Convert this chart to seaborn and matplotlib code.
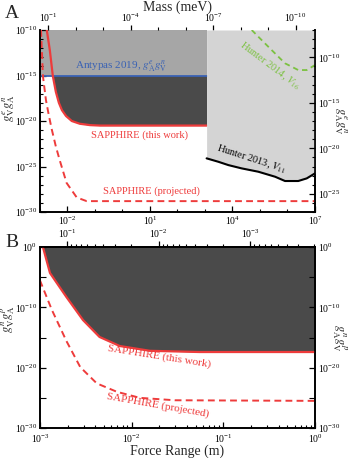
import numpy as np
import matplotlib
matplotlib.use('Agg')
import matplotlib.pyplot as plt
import matplotlib.ticker as mticker
import seaborn as sns

# %%
# values (log10 of force range in m, log10 of coupling)
# panel A, left axis units
sapphire_A_lam = [-2.75, -2.64, -2.53, -2.42, -2.31, -2.20, -2.05, -1.84, -1.55, -1.18, -0.82, 1.0, 3.06]
sapphire_A_g = [-10, -12.2, -15.05, -16.8, -18.0, -18.8, -19.45, -20.0, -20.3, -20.45, -20.5, -20.5, -20.5]
projected_A_lam = [-2.96, -2.89, -2.78, -2.68, -2.57, -2.42, -2.28, -2.03, -1.66, -1.30, 7.0]
projected_A_g = [-10, -15.05, -17.7, -19.3, -20.9, -22.8, -24.3, -26.8, -28.4, -28.8, -28.8]
antypas_lam = [-3.0, 3.06]
antypas_limit = -15
antypas_top = -10

# panel A, right axis units
hunter13_lam = [3.06, 3.48, 3.85, 4.33, 4.94, 5.55, 5.91, 6.39, 6.70, 7.0]
hunter13_g = [-21.10, -21.47, -21.84, -22.20, -22.57, -23.12, -23.59, -23.59, -23.30, -22.75]
hunter14_lam = [4.70, 4.94, 5.30, 5.91, 6.39, 6.70, 7.0]
hunter14_g = [-7.0, -7.74, -8.83, -10.66, -11.40, -11.40, -10.85]

# panel B
sapphire_B_lam = [-2.967, -2.89, -2.71, -2.53, -2.35, -2.13, -1.80, -1.26, 0]
sapphire_B_g = [0, -4.3, -8.3, -12.1, -14.9, -16.4, -17.2, -17.4, -17.4]
projected_B_lam = [-3.0, -2.87, -2.71, -2.56, -2.38, -2.16, -1.91, -1.53, 0]
projected_B_g = [-5.5, -10.4, -15.6, -19.9, -22.6, -24.0, -25.0, -25.4, -25.5]

hbar_c = 1.97e-4  # meV m

RED = '#ee3b3b'
DARK = '#4a4a4a'
MID = '#a6a6a6'
LIGHT = '#d4d4d4'
BLUE = '#3a62b4'
GREEN = '#7cc142'


def to_mass(x):
    x = np.array(x, float)
    x[x <= 0] = np.inf
    return hbar_c / x


def p10(v):
    return 10.0 ** np.asarray(v, float)


sns.set_theme(style='ticks')
plt.rcParams['font.family'] = ['Liberation Serif', 'DejaVu Serif']
plt.rcParams['mathtext.fontset'] = 'stix'
plt.rcParams['font.size'] = 7
for k in ['xtick', 'ytick']:
    plt.rcParams[k + '.labelsize'] = 7
    plt.rcParams[k + '.major.size'] = 4
    plt.rcParams[k + '.minor.size'] = 2.5
    plt.rcParams[k + '.major.width'] = 0.9
    plt.rcParams[k + '.minor.width'] = 0.8
    plt.rcParams[k + '.color'] = 'black'
plt.rcParams['axes.linewidth'] = 1.2
plt.rcParams['axes.edgecolor'] = 'black'

fig = plt.figure(figsize=(3.5, 4.58), dpi=100)
axA = fig.add_axes([0.114, 0.537, 0.786, 0.3975])
axB = fig.add_axes([0.114, 0.0655, 0.786, 0.395])

# %%
# Panel A
ax = axA
ax.set(xscale='log', yscale='log', xlim=(1e-3, 1e7), ylim=(1e-30, 1e-10))
ax.fill_between(p10(antypas_lam), 10.0 ** antypas_limit, 10.0 ** antypas_top,
                color=MID, lw=0, zorder=0)
sl = p10(sapphire_A_lam)
sg = p10(sapphire_A_g)
ax.fill_between(sl, sg, 10.0 ** antypas_limit, where=sg <= 10.0 ** antypas_limit * 1.2,
                interpolate=True, color=DARK, lw=0, zorder=0)
sns.lineplot(x=p10(antypas_lam), y=[10.0 ** antypas_limit] * 2, ax=ax,
             color=BLUE, lw=1.3, zorder=3)
sns.lineplot(x=sl, y=sg, ax=ax, color=RED, lw=1.6, zorder=3)
sns.lineplot(x=p10(projected_A_lam), y=p10(projected_A_g), ax=ax, color=RED,
             lw=1.4, linestyle=(0, (3.5, 2.2)), zorder=3)
ax.text(0.9, 1.6e-15, 'Antypas 2019, $g^e_{\\rm A}g^n_{\\rm V}$', color=BLUE,
        fontsize=8, ha='center', va='bottom')
ax.text(4.2, 3e-22, 'SAPPHIRE (this work)', color=RED, fontsize=7.5, ha='center', va='center')
ax.text(11, 2e-28, 'SAPPHIRE (projected)', color=RED, fontsize=7.5, ha='center', va='center')
ax.set_xticks([1e-2, 1e1, 1e4, 1e7])
ax.xaxis.set_minor_locator(mticker.FixedLocator(p10(range(-3, 8))))
ax.xaxis.set_minor_formatter(mticker.NullFormatter())
ax.set_yticks(p10([-30, -25, -20, -15, -10]))
ax.yaxis.set_minor_locator(mticker.FixedLocator(p10(range(-30, -9))))
ax.yaxis.set_minor_formatter(mticker.NullFormatter())
ax.tick_params(which='both', direction='in', top=False, right=False, pad=2)
ax.spines['top'].set_visible(False)
ax.set_ylabel('$g^e_{\\rm V}g^n_{\\rm A}$', fontsize=9, labelpad=1)
ax.yaxis.set_label_coords(-0.082, 0.57)
ax.set_xlabel('')

tw = ax.twinx()
tw.set(yscale='log', ylim=(1e-27, 1e-7))
hl = p10(hunter13_lam)
hg = p10(hunter13_g)
tw.fill_between(hl, hg, 1e-7, color=LIGHT, lw=0, zorder=0)
sns.lineplot(x=hl, y=hg, ax=tw, color='black', lw=1.5)
sns.lineplot(x=p10(hunter14_lam), y=p10(hunter14_g), ax=tw, color=GREEN, lw=1.3,
             linestyle=(0, (3, 2.2)))
tw.text(5e4, 6e-22, 'Hunter 2013, $V_{11}$', color='black', fontsize=7.5,
        rotation=-18, ha='center', va='center', rotation_mode='anchor')
tw.text(2.3e5, 1.1e-11, 'Hunter 2014, $V_{16}$', color=GREEN, fontsize=7.5,
        rotation=-37, ha='center', va='center', rotation_mode='anchor')
tw.set_yticks(p10([-25, -20, -15, -10]))
tw.yaxis.set_minor_locator(mticker.FixedLocator(p10(range(-27, -6))))
tw.yaxis.set_minor_formatter(mticker.NullFormatter())
tw.tick_params(which='both', direction='in', pad=2)
tw.spines['top'].set_visible(False)
tw.set_ylabel('$g^e_{\\rm A}g^n_{\\rm V}$', fontsize=9, rotation=-90, labelpad=6)
tw.set_xlim(1e-3, 1e7)

secA = ax.secondary_xaxis('top', functions=(to_mass, to_mass))
secA.set_xticks([1e-1, 1e-4, 1e-7, 1e-10])
secA.xaxis.set_minor_locator(mticker.FixedLocator(p10(range(-10, 1))))
secA.xaxis.set_minor_formatter(mticker.NullFormatter())
secA.tick_params(which='both', direction='out', pad=0.5)
secA.tick_params(which='major', length=3.5)
secA.spines['top'].set_visible(False)
secA.set_xlabel('Mass (meV)', fontsize=10, labelpad=1)

# %%
# Panel B
ax = axB
ax.set(xscale='log', yscale='log', xlim=(1e-3, 1e0), ylim=(1e-30, 1e0))
bl = p10(sapphire_B_lam)
bg = p10(sapphire_B_g)
ax.fill_between(bl, bg, 1e0, color=DARK, lw=0, zorder=0)
sns.lineplot(x=bl, y=bg, ax=ax, color=RED, lw=1.6, zorder=3)
sns.lineplot(x=p10(projected_B_lam), y=p10(projected_B_g), ax=ax, color=RED,
             lw=1.4, linestyle=(0, (3.5, 2.2)), zorder=3)
ax.text(0.02, 8e-19, 'SAPPHIRE (this work)', color=RED, fontsize=8,
        rotation=-9, ha='center', va='center', rotation_mode='anchor')
ax.text(0.0195, 6e-27, 'SAPPHIRE (projected)', color=RED, fontsize=8,
        rotation=-10, ha='center', va='center', rotation_mode='anchor')
ax.set_xticks([1e-3, 1e-2, 1e-1, 1e0])
ax.xaxis.set_minor_locator(mticker.LogLocator(base=10, subs=np.arange(2, 10)))
ax.xaxis.set_minor_formatter(mticker.NullFormatter())
ax.set_yticks(p10([-30, -20, -10, 0]))
ax.yaxis.set_minor_locator(mticker.FixedLocator(p10([-25, -15, -5])))
ax.yaxis.set_minor_formatter(mticker.NullFormatter())
ax.tick_params(which='both', direction='in', top=False, right=False, pad=2)
ax.tick_params(axis='x', pad=3)
ax.tick_params(axis='y', which='minor', length=4)
ax.set_xlabel('Force Range (m)', fontsize=10, labelpad=0)
ax.set_ylabel('$g^n_{\\rm V}g^p_{\\rm A}$', fontsize=9, labelpad=1)
ax.yaxis.set_label_coords(-0.082, 0.6)

twB = ax.twinx()
twB.set(yscale='log', ylim=(1e-30, 1e0))
twB.set_yticks(p10([-30, -20, -10, 0]))
twB.yaxis.set_minor_locator(mticker.FixedLocator(p10([-25, -15, -5])))
twB.yaxis.set_minor_formatter(mticker.NullFormatter())
twB.tick_params(which='both', direction='in', pad=2)
twB.tick_params(axis='y', which='minor', length=4)
twB.set_ylabel('$g^n_{\\rm A}g^p_{\\rm V}$', fontsize=9, rotation=-90, labelpad=6)

secB = ax.secondary_xaxis('top', functions=(to_mass, to_mass))
secB.set_xticks([1e-1, 1e-2, 1e-3])
secB.xaxis.set_minor_locator(mticker.LogLocator(base=10, subs=np.arange(2, 10)))
secB.xaxis.set_minor_formatter(mticker.NullFormatter())
secB.tick_params(which='both', direction='out', pad=1)

fig.text(0.015, 0.99, 'A', fontsize=14, ha='left', va='top')
fig.text(0.015, 0.49, 'B', fontsize=14, ha='left', va='top')

fig.savefig('out.png', dpi=100)
